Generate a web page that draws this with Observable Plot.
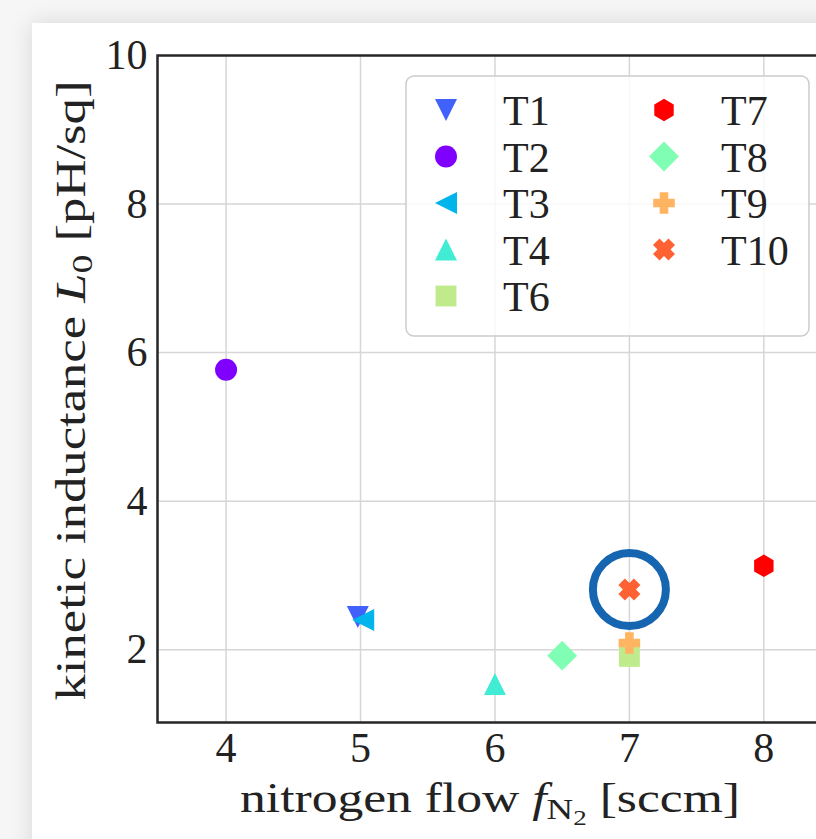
<!DOCTYPE html>
<html><head><meta charset="utf-8">
<script src="https://cdn.jsdelivr.net/npm/d3@7"></script>
<script src="https://cdn.jsdelivr.net/npm/@observablehq/plot@0.6"></script>
<style>
html,body{margin:0;padding:0;overflow:hidden;background:#f6f6f6;width:816px;height:839px;position:relative}
#card{position:absolute;left:32px;top:23px;width:900px;height:900px;background:#fff;box-shadow:0 0 22px rgba(0,0,0,0.13)}
#chart{position:absolute;left:0;top:0}
#legend{position:absolute;left:0;top:0;pointer-events:none}
</style>
</head><body>
<div id="card"><div id="chart"></div></div>
<svg id="legend" width="816" height="839"></svg>
<script>
// ---- data ----
const samples = ["T1","T2","T3","T4","T6","T7","T8","T9","T10"];
const flow = [4.98, 4, 5.02, 6, 7, 8, 6.5, 7, 7];
const inductance = [2.44, 5.77, 2.40, 1.54, 1.91, 3.13, 1.92, 2.09, 2.81];
const colors = ["#4062fa","#8000ff","#00b4ec","#40ecd4","#c0eb8d","#ff0000","#80ffb4","#ffb462","#ff6232"];
const markers = ["triDown","circle","triLeft","triUp","square","hexagon","diamond","plus","xFilled"];
const xTicks = [4,5,6,7,8];
const yTicks = [2,4,6,8,10];
const highlighted = ["T10"];
const xLabel = ["nitrogen flow ", "f", "N", "2", " [sccm]"];
const yLabel = ["kinetic inductance ", "L", "0", " [pH/sq]"];

// ---- custom symbols (matplotlib-like) ----
function poly(ctx, pts){ctx.moveTo(pts[0][0],pts[0][1]);for(let i=1;i<pts.length;i++)ctx.lineTo(pts[i][0],pts[i][1]);ctx.closePath();}
const R = s => Math.sqrt(s/Math.PI);
const symbols = {
  circle:{draw(c,s){const r=R(s);c.moveTo(r,0);c.arc(0,0,r,0,2*Math.PI);}},
  triDown:{draw(c,s){const r=R(s);poly(c,[[0,r],[-r,-r],[r,-r]]);}},
  triUp:{draw(c,s){const r=R(s);poly(c,[[0,-r],[-r,r],[r,r]]);}},
  triLeft:{draw(c,s){const r=R(s);poly(c,[[-r,0],[r,-r],[r,r]]);}},
  square:{draw(c,s){const r=R(s)*0.95;poly(c,[[-r,-r],[r,-r],[r,r],[-r,r]]);}},
  diamond:{draw(c,s){const r=R(s)*1.36;poly(c,[[0,-r],[r,0],[0,r],[-r,0]]);}},
  hexagon:{draw(c,s){const r=R(s)*1.02;const p=[];for(let i=0;i<6;i++){const a=-Math.PI/2+i*Math.PI/3;p.push([r*Math.cos(a),r*Math.sin(a)]);}poly(c,p);}},
  plus:{draw(c,s){const r=R(s)*0.98,w=r*0.4;poly(c,[[-w,-r],[w,-r],[w,-w],[r,-w],[r,w],[w,w],[w,r],[-w,r],[-w,w],[-r,w],[-r,-w],[-w,-w]]);}},
  xFilled:{draw(c,s){const r=R(s)*1.0,w=r*0.42;const base=[[-w,-r],[w,-r],[w,-w],[r,-w],[r,w],[w,w],[w,r],[-w,r],[-w,w],[-r,w],[-r,-w],[-w,-w]];const k=Math.SQRT1_2;const sc=1.0/ (k*(r+w)) * r;poly(c,base.map(([x,y])=>[(x-y)*k*sc,(x+y)*k*sc]));}}
};

const data = samples.map((s,i)=>({sample:s,flow:flow[i],L:inductance[i],color:colors[i],marker:markers[i]}));
const FS = 42;
const font = "'Liberation Serif', 'DejaVu Serif', serif";

const chart = Plot.plot({
  width: 812, height: 816,
  marginLeft: 125, marginTop: 32, marginBottom: 117, marginRight: 0,
  x: {domain:[3.49, 8.6]},
  y: {domain:[1.02, 10]},
  style: {fontFamily: font, fontSize: FS+"px", color:"#222", background:"transparent"},
  marks: [
    Plot.gridX(xTicks, {stroke:"#d6d6d6", strokeOpacity:1, strokeWidth:1.5}),
    Plot.gridY(yTicks.filter(d=>d<10), {stroke:"#d6d6d6", strokeOpacity:1, strokeWidth:1.5}),
    Plot.axisX({ticks:xTicks, tickFormat:d3.format("d"), tickSize:0, tickPadding:10, label:null, fontSize:FS, fill:"#222"}),
    Plot.axisY({ticks:yTicks, tickFormat:d3.format("d"), tickSize:0, tickPadding:10, label:null, fontSize:FS, fill:"#222"}),
    Plot.frame({stroke:"#262626", strokeWidth:2.5}),
    ...data.map(d => Plot.dot([d], {x:"flow", y:"L", r:11, symbol:symbols[d.marker], fill:d.color, stroke:"none"})),
    Plot.dot(data.filter(d=>highlighted.includes(d.sample)), {x:"flow", y:"L", r:36.5, stroke:"#1565b0", strokeWidth:8, fill:"none"})
  ]
});
document.getElementById("chart").appendChild(chart);

// axis labels with subscripts
const svg = d3.select(chart);
const ys = chart.scale("y");
const yc = (ys.range[0]+ys.range[1])/2 + 2;
const xt = svg.append("text").attr("x", 458).attr("y", 789).attr("text-anchor","middle")
  .attr("font-family", font).attr("font-size", FS).attr("fill","#222")
  .attr("textLength", 500).attr("lengthAdjust","spacingAndGlyphs");
xt.append("tspan").text(xLabel[0]);
xt.append("tspan").attr("font-style","italic").text(xLabel[1]);
xt.append("tspan").attr("font-size",30).attr("dy",7).text(xLabel[2]);
xt.append("tspan").attr("font-size",22).attr("dy",6).text(xLabel[3]);
xt.append("tspan").attr("dy",-13).text(xLabel[4]);

const yt = svg.append("text").attr("transform",`translate(53,${yc}) rotate(-90)`).attr("text-anchor","middle")
  .attr("font-family", font).attr("font-size", FS).attr("fill","#222")
  .attr("textLength", 620).attr("lengthAdjust","spacingAndGlyphs");
yt.append("tspan").text(yLabel[0]);
yt.append("tspan").attr("font-style","italic").text(yLabel[1]);
yt.append("tspan").attr("font-size",30).attr("dy",7).text(yLabel[2]);
yt.append("tspan").attr("dy",-7).text(yLabel[3]);

// legend overlay
const lg = d3.select("#legend");
lg.append("rect").attr("x",406).attr("y",76).attr("width",403).attr("height",260).attr("rx",8)
  .attr("fill","#fff").attr("fill-opacity",0.82).attr("stroke","#cccccc").attr("stroke-width",1.5);
const perCol = 5;
data.forEach((d,i)=>{
  const col = Math.floor(i/perCol), row = i%perCol;
  const mx = col===0 ? 446 : 664, tx = col===0 ? 503 : 721;
  const cy = 110 + row*46.5;
  lg.append("path").attr("transform",`translate(${mx},${cy})`)
    .attr("d", d3.symbol(symbols[d.marker], Math.PI*11*11)()).attr("fill", d.color);
  lg.append("text").attr("x",tx).attr("y",cy+15).attr("font-family",font).attr("font-size",FS).attr("fill","#222").text(d.sample);
});
</script>
</body></html>
